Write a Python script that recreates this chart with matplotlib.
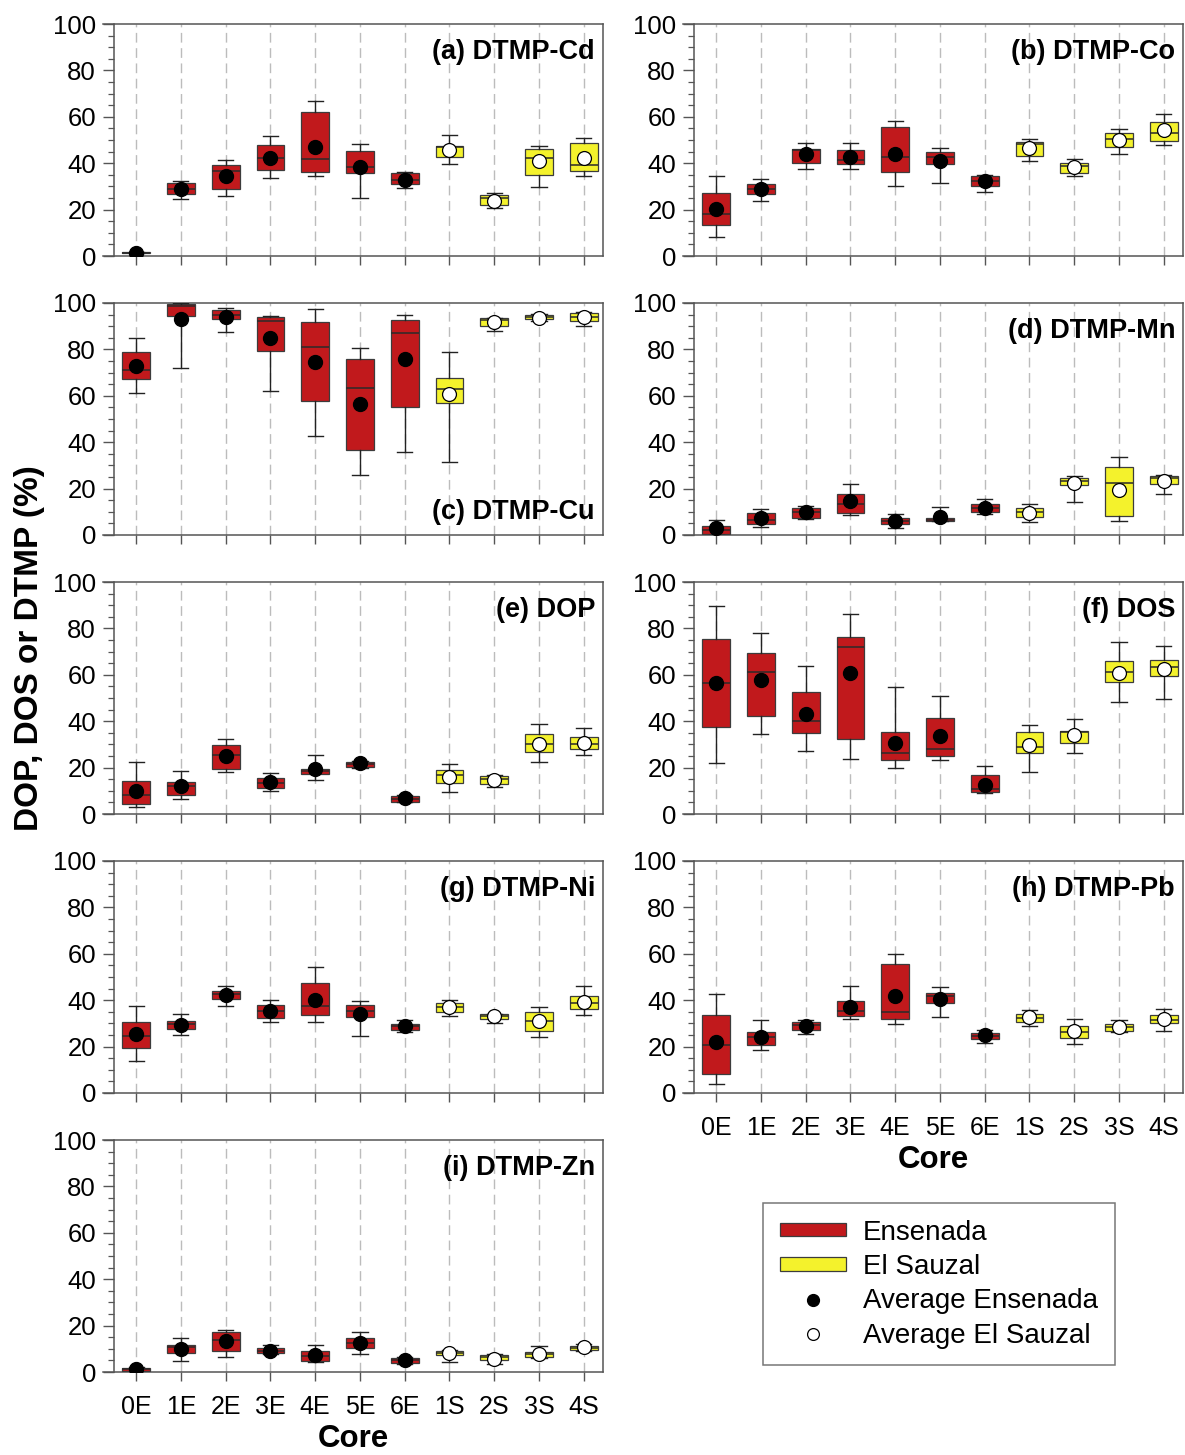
import matplotlib
matplotlib.use("Agg")
import matplotlib.pyplot as plt
from matplotlib.lines import Line2D
from matplotlib.patches import Patch
from matplotlib.ticker import MultipleLocator

plt.rcParams['font.family'] = ['Liberation Sans', 'DejaVu Sans']

cores = ['0E', '1E', '2E', '3E', '4E', '5E', '6E', '1S', '2S', '3S', '4S']
n_ens = 7  # first seven cores are Ensenada, the rest El Sauzal

# one row per core: whisker low, Q1, median, Q3, whisker high, mean
dtmp_cd = [[1.2, 1.4, 1.5, 1.6, 1.8, 1.5],
           [24.4, 26.9, 28.9, 31.3, 32.2, 28.7],
           [25.7, 28.9, 36.8, 39.1, 41.4, 34.5],
           [33.8, 36.9, 42.4, 47.8, 51.7, 42.1],
           [34.5, 36.1, 41.8, 61.9, 66.7, 47.1],
           [24.9, 35.8, 38.5, 45.1, 48.1, 38.5],
           [29.5, 31.2, 32.8, 35.8, 36.2, 32.9],
           [39.7, 42.8, 47.1, 47.6, 52.2, 45.7],
           [20.8, 21.8, 24.9, 26.1, 27.2, 23.9],
           [29.7, 34.9, 42.4, 46.3, 47.4, 40.9],
           [34.5, 36.6, 39.4, 48.6, 51.0, 42.2]]

dtmp_co = [[8.0, 13.5, 18.0, 27.3, 34.5, 20.1],
           [23.6, 26.9, 29.0, 31.2, 33.0, 28.7],
           [37.4, 40.2, 45.7, 46.3, 48.6, 43.8],
           [37.4, 39.7, 41.5, 45.7, 48.6, 42.7],
           [30.3, 36.2, 42.7, 55.7, 58.0, 43.8],
           [31.3, 39.7, 42.8, 44.8, 46.7, 41.1],
           [27.7, 30.3, 32.5, 34.3, 34.8, 32.3],
           [41.1, 43.1, 48.4, 49.3, 50.6, 46.4],
           [34.5, 35.6, 38.6, 40.1, 42.0, 38.2],
           [44.0, 47.1, 50.6, 53.2, 54.9, 49.9],
           [47.7, 49.6, 52.9, 57.9, 61.1, 54.2]]

dtmp_cu = [[61.1, 67.4, 71.2, 78.7, 85.1, 72.8],
           [71.8, 94.3, 98.6, 99.6, 100.0, 93.2],
           [87.5, 93.1, 95.0, 97.1, 97.8, 94.1],
           [62.2, 79.2, 92.4, 94.1, 94.4, 84.9],
           [42.8, 57.9, 80.9, 92.0, 97.6, 74.7],
           [25.7, 36.6, 63.4, 76.0, 80.5, 56.6],
           [35.9, 55.0, 86.9, 92.5, 94.8, 76.0],
           [31.6, 56.9, 63.1, 67.5, 79.0, 60.8],
           [87.8, 89.9, 92.8, 93.4, 93.5, 91.7],
           [92.1, 93.0, 94.0, 94.8, 95.1, 93.7],
           [90.1, 92.4, 94.1, 95.7, 96.0, 93.8]]

dtmp_mn = [[0.0, 0.4, 2.2, 4.0, 6.5, 2.9],
           [3.4, 4.6, 6.5, 9.6, 11.1, 7.2],
           [6.9, 7.5, 10.1, 11.5, 12.6, 9.8],
           [8.6, 9.6, 13.5, 17.7, 22.0, 14.7],
           [3.0, 4.6, 6.2, 7.5, 8.9, 6.0],
           [5.9, 6.2, 6.6, 7.2, 12.2, 7.8],
           [8.9, 9.8, 11.6, 13.2, 15.5, 11.8],
           [5.6, 7.9, 9.9, 11.5, 13.5, 9.3],
           [14.4, 21.4, 23.1, 24.6, 25.4, 22.4],
           [6.0, 8.3, 22.6, 29.5, 33.6, 19.5],
           [17.5, 21.8, 24.4, 25.4, 26.0, 23.4]]

dop = [[2.9, 4.2, 8.2, 14.2, 22.5, 10.0],
       [6.3, 8.2, 12.0, 14.0, 18.6, 12.0],
       [18.2, 19.5, 25.6, 29.9, 32.4, 24.9],
       [9.9, 11.0, 13.2, 15.6, 17.6, 13.6],
       [14.8, 17.2, 18.5, 19.6, 25.5, 19.2],
       [19.8, 20.1, 21.6, 22.6, 22.8, 21.8],
       [5.0, 5.2, 6.3, 7.9, 8.2, 6.7],
       [9.6, 13.5, 17.0, 18.9, 21.6, 16.0],
       [11.5, 12.9, 15.0, 16.5, 17.0, 14.6],
       [22.3, 26.9, 30.2, 34.5, 39.0, 30.2],
       [25.5, 28.2, 30.2, 33.1, 37.2, 30.7]]

dos = [[21.9, 37.5, 56.6, 75.6, 89.7, 56.3],
       [34.4, 42.1, 61.0, 69.3, 78.1, 57.7],
       [27.1, 34.7, 40.1, 52.4, 63.6, 43.0],
       [23.5, 32.5, 71.9, 76.1, 86.2, 60.9],
       [19.9, 23.2, 26.1, 35.2, 54.7, 30.5],
       [23.2, 24.8, 27.9, 41.5, 51.0, 33.5],
       [8.9, 9.3, 10.6, 16.6, 20.5, 12.6],
       [17.9, 26.5, 28.9, 35.4, 38.4, 29.9],
       [26.2, 30.8, 35.5, 35.8, 40.8, 34.2],
       [48.1, 56.7, 61.0, 66.0, 74.1, 60.9],
       [49.4, 59.6, 63.2, 66.3, 72.5, 62.3]]

dtmp_ni = [[13.8, 19.5, 24.4, 30.5, 37.5, 25.6],
           [25.1, 27.8, 29.7, 31.2, 34.1, 29.4],
           [37.5, 40.4, 42.7, 43.8, 46.0, 42.1],
           [30.4, 32.5, 35.2, 37.8, 40.0, 35.2],
           [30.4, 33.7, 37.5, 47.6, 54.2, 40.1],
           [24.5, 32.8, 35.4, 37.8, 39.8, 34.1],
           [26.4, 27.2, 28.8, 29.7, 31.4, 28.7],
           [33.2, 34.8, 37.2, 38.7, 40.1, 37.1],
           [30.1, 32.1, 33.2, 34.1, 34.1, 33.1],
           [24.1, 26.6, 30.9, 35.1, 37.1, 30.9],
           [33.8, 36.0, 38.8, 41.8, 46.0, 39.4]]

dtmp_pb = [[3.9, 8.2, 20.5, 33.5, 42.7, 22.1],
           [18.6, 20.8, 24.0, 26.4, 31.6, 24.0],
           [25.6, 27.0, 29.3, 30.7, 31.6, 28.7],
           [31.9, 33.0, 35.3, 39.8, 46.0, 36.9],
           [29.9, 32.0, 34.9, 55.5, 59.9, 41.7],
           [32.8, 38.6, 41.8, 43.1, 45.5, 40.4],
           [21.7, 23.1, 24.6, 26.0, 27.0, 24.9],
           [28.9, 30.6, 32.5, 34.2, 35.8, 32.8],
           [21.1, 23.9, 26.1, 29.0, 32.0, 26.6],
           [26.1, 26.9, 28.3, 29.7, 31.6, 28.3],
           [26.9, 30.0, 31.6, 33.6, 36.2, 31.8]]

dtmp_zn = [[0.1, 0.3, 1.2, 1.9, 2.2, 1.3],
           [4.7, 8.1, 10.6, 11.8, 14.7, 10.1],
           [6.5, 9.1, 13.8, 17.1, 18.3, 13.5],
           [7.6, 8.1, 9.2, 10.4, 11.5, 9.1],
           [4.2, 4.9, 6.9, 9.2, 11.5, 7.2],
           [7.9, 10.2, 12.5, 14.7, 17.3, 12.7],
           [3.5, 3.9, 5.0, 6.0, 6.5, 5.0],
           [4.5, 7.2, 8.1, 9.2, 9.4, 8.1],
           [3.6, 5.0, 6.3, 7.3, 7.6, 5.8],
           [6.2, 6.6, 7.8, 8.8, 11.1, 7.8],
           [9.1, 9.5, 10.5, 11.2, 11.9, 10.6]]

red = '#c1191c'
yellow = '#f4f22c'
edge = '#3c3c3c'

W, H = 1185, 1455
fig = plt.figure(figsize=(W / 100, H / 100), dpi=100)


def px_axes(left, top, width, height):
    return fig.add_axes([left / W, 1 - (top + height) / H, width / W, height / H])


def draw_panel(ax, rows, label, label_y, show_xlabels):
    x = list(range(len(cores)))
    stats = [dict(whislo=r[0], q1=r[1], med=r[2], q3=r[3], whishi=r[4], fliers=[])
             for r in rows]
    means = [r[5] for r in rows]
    for idx, color in ((slice(0, n_ens), red), (slice(n_ens, None), yellow)):
        ax.bxp(stats[idx], positions=x[idx], widths=0.62, capwidths=0.34,
               patch_artist=True, showfliers=False, manage_ticks=False,
               boxprops=dict(facecolor=color, edgecolor=edge, linewidth=0.9),
               medianprops=dict(color='#2a2a2a', linewidth=1.1),
               whiskerprops=dict(color='#222222', linewidth=1.0),
               capprops=dict(color='#222222', linewidth=1.0), zorder=3)
    ax.plot(x[:n_ens], means[:n_ens], 'o', color='black', ms=10, zorder=5)
    ax.plot(x[n_ens:], means[n_ens:], 'o', mfc='white', mec='black', mew=0.9,
            ms=10, zorder=5)

    ax.set_xlim(-0.74, 10.43)
    ax.set_ylim(0, 100)
    ax.set_xticks(x)
    ax.set_xticklabels(cores if show_xlabels else [])
    ax.yaxis.set_major_locator(MultipleLocator(20))
    ax.yaxis.set_minor_locator(MultipleLocator(5))
    ax.spines['left'].set_position(('data', -0.5))
    for sp in ax.spines.values():
        sp.set_color('#555555')
        sp.set_linewidth(1.1)
    ax.set_axisbelow(True)
    ax.xaxis.grid(True, linestyle=(0, (7, 4)), color='#bcbcbc', linewidth=1.0)
    ax.tick_params(axis='y', which='major', length=7.7, width=1.0, color='#555555',
                   labelsize=18.5, pad=5)
    ax.tick_params(axis='y', which='minor', length=4, width=0.9, color='#555555')
    ax.tick_params(axis='x', length=6.5, width=1.0, color='#555555', labelsize=18,
                   pad=10)
    ax.text(0.984, label_y, label, transform=ax.transAxes, ha='right', va='center',
            fontsize=19.5, fontweight='bold')
    if show_xlabels:
        ax.set_xlabel('Core', fontsize=22.5, fontweight='bold', labelpad=4)


tops = [24, 303, 582, 861, 1140]
lefts = [103, 683]
aw, ah = 500, 232

panels = [
    (0, 0, dtmp_cd, '(a) DTMP-Cd', 0.88, False),
    (1, 0, dtmp_co, '(b) DTMP-Co', 0.88, False),
    (0, 1, dtmp_cu, '(c) DTMP-Cu', 0.10, False),
    (1, 1, dtmp_mn, '(d) DTMP-Mn', 0.88, False),
    (0, 2, dop, '(e) DOP', 0.88, False),
    (1, 2, dos, '(f) DOS', 0.88, False),
    (0, 3, dtmp_ni, '(g) DTMP-Ni', 0.88, False),
    (1, 3, dtmp_pb, '(h) DTMP-Pb', 0.88, True),
    (0, 4, dtmp_zn, '(i) DTMP-Zn', 0.88, True),
]

for col, row, rows, label, ly, showx in panels:
    ax = px_axes(lefts[col], tops[row], aw, ah)
    draw_panel(ax, rows, label, ly, showx)

fig.text(30 / W, 1 - 648 / H, 'DOP, DOS or DTMP (%)', rotation=90, ha='center',
         va='center', fontsize=24, fontweight='bold')

handles = [
    Patch(facecolor=red, edgecolor=edge, linewidth=0.9, label='Ensenada'),
    Patch(facecolor=yellow, edgecolor=edge, linewidth=0.9, label='El Sauzal'),
    Line2D([], [], linestyle='none', marker='o', color='black', ms=8.5,
           label='Average Ensenada'),
    Line2D([], [], linestyle='none', marker='o', mfc='white', mec='black', mew=0.9,
           ms=8.5, label='Average El Sauzal'),
]
leg = fig.legend(handles=handles, loc='upper left',
                 bbox_to_anchor=(763 / W, 1 - 1203 / H), borderaxespad=0,
                 fontsize=20, frameon=True, fancybox=False, handlelength=2.4,
                 handleheight=0.36, handletextpad=0.6, borderpad=0.6,
                 labelspacing=0.3)
leg.get_frame().set_edgecolor('#555555')
leg.get_frame().set_linewidth(1.1)

fig.savefig('out.png', dpi=100)
